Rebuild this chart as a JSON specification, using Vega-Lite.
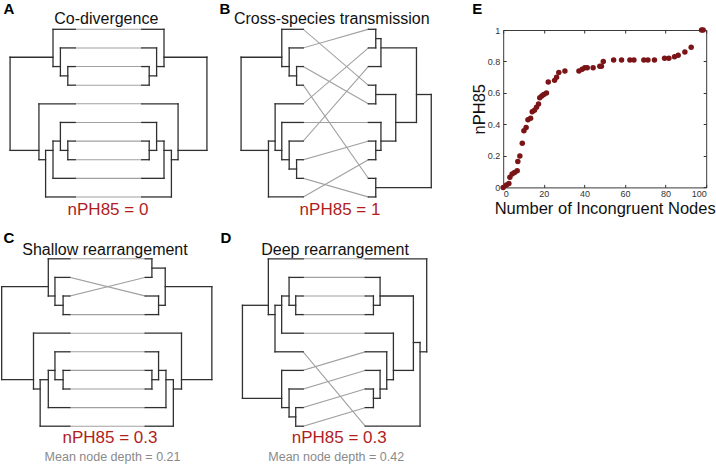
{
"$schema": "https://vega.github.io/schema/vega-lite/v6.json",
"padding": 0,
"background": "white",
"config": {"view": {"stroke": null}, "font": "Liberation Sans"},
"datasets": {
"segs": [
{"p":"A","k":"g","x":-4.5,"y":1,"x2":4.5,"y2":1},{"p":"A","k":"g","x":-4.5,"y":2,"x2":4.5,"y2":2},{"p":"A","k":"g","x":-4.5,"y":3,"x2":4.5,"y2":3},{"p":"A","k":"g","x":-4.5,"y":4,"x2":4.5,"y2":4},{"p":"A","k":"g","x":-4.5,"y":5,"x2":4.5,"y2":5},{"p":"A","k":"g","x":-4.5,"y":6,"x2":4.5,"y2":6},{"p":"A","k":"g","x":-4.5,"y":7,"x2":4.5,"y2":7},{"p":"A","k":"g","x":-4.5,"y":8,"x2":4.5,"y2":8},{"p":"A","k":"g","x":-4.5,"y":9,"x2":4.5,"y2":9},{"p":"A","k":"g","x":-4.5,"y":10,"x2":4.5,"y2":10},
{"p":"A","k":"t","x":-7.5,"y":1,"x2":-4.5,"y2":1},{"p":"A","k":"t","x":-6.5,"y":2,"x2":-4.5,"y2":2},{"p":"A","k":"t","x":-5.5,"y":3,"x2":-4.5,"y2":3},{"p":"A","k":"t","x":-5.5,"y":4,"x2":-4.5,"y2":4},{"p":"A","k":"t","x":-9.4,"y":5,"x2":-4.5,"y2":5},{"p":"A","k":"t","x":-6.5,"y":6,"x2":-4.5,"y2":6},{"p":"A","k":"t","x":-5.5,"y":7,"x2":-4.5,"y2":7},{"p":"A","k":"t","x":-5.5,"y":8,"x2":-4.5,"y2":8},{"p":"A","k":"t","x":-7.5,"y":9,"x2":-4.5,"y2":9},{"p":"A","k":"t","x":-8.5,"y":10,"x2":-4.5,"y2":10},
{"p":"A","k":"t","x":-5.5,"y":3,"x2":-5.5,"y2":4},{"p":"A","k":"t","x":-6.5,"y":3.5,"x2":-5.5,"y2":3.5},{"p":"A","k":"t","x":-6.5,"y":2,"x2":-6.5,"y2":3.5},{"p":"A","k":"t","x":-7.5,"y":3,"x2":-6.5,"y2":3},{"p":"A","k":"t","x":-7.5,"y":1,"x2":-7.5,"y2":3},{"p":"A","k":"t","x":-13.3,"y":2.5,"x2":-7.5,"y2":2.5},{"p":"A","k":"t","x":-5.5,"y":7,"x2":-5.5,"y2":8},{"p":"A","k":"t","x":-6.5,"y":7.5,"x2":-5.5,"y2":7.5},{"p":"A","k":"t","x":-6.5,"y":6,"x2":-6.5,"y2":7.5},{"p":"A","k":"t","x":-7.5,"y":7,"x2":-6.5,"y2":7},{"p":"A","k":"t","x":-7.5,"y":7,"x2":-7.5,"y2":9},{"p":"A","k":"t","x":-8.5,"y":7.5,"x2":-7.5,"y2":7.5},{"p":"A","k":"t","x":-8.5,"y":7.5,"x2":-8.5,"y2":10},{"p":"A","k":"t","x":-9.4,"y":8,"x2":-8.5,"y2":8},{"p":"A","k":"t","x":-9.4,"y":5,"x2":-9.4,"y2":8},{"p":"A","k":"t","x":-13.3,"y":7.5,"x2":-9.4,"y2":7.5},{"p":"A","k":"t","x":-13.3,"y":2.5,"x2":-13.3,"y2":7.5},
{"p":"A","k":"t","x":7.5,"y":1,"x2":4.5,"y2":1},{"p":"A","k":"t","x":6.5,"y":2,"x2":4.5,"y2":2},{"p":"A","k":"t","x":5.5,"y":3,"x2":4.5,"y2":3},{"p":"A","k":"t","x":5.5,"y":4,"x2":4.5,"y2":4},{"p":"A","k":"t","x":9.4,"y":5,"x2":4.5,"y2":5},{"p":"A","k":"t","x":6.5,"y":6,"x2":4.5,"y2":6},{"p":"A","k":"t","x":5.5,"y":7,"x2":4.5,"y2":7},{"p":"A","k":"t","x":5.5,"y":8,"x2":4.5,"y2":8},{"p":"A","k":"t","x":7.5,"y":9,"x2":4.5,"y2":9},{"p":"A","k":"t","x":8.5,"y":10,"x2":4.5,"y2":10},
{"p":"A","k":"t","x":5.5,"y":3,"x2":5.5,"y2":4},{"p":"A","k":"t","x":6.5,"y":3.5,"x2":5.5,"y2":3.5},{"p":"A","k":"t","x":6.5,"y":2,"x2":6.5,"y2":3.5},{"p":"A","k":"t","x":7.5,"y":3,"x2":6.5,"y2":3},{"p":"A","k":"t","x":7.5,"y":1,"x2":7.5,"y2":3},{"p":"A","k":"t","x":13.3,"y":2.5,"x2":7.5,"y2":2.5},{"p":"A","k":"t","x":5.5,"y":7,"x2":5.5,"y2":8},{"p":"A","k":"t","x":6.5,"y":7.5,"x2":5.5,"y2":7.5},{"p":"A","k":"t","x":6.5,"y":6,"x2":6.5,"y2":7.5},{"p":"A","k":"t","x":7.5,"y":7,"x2":6.5,"y2":7},{"p":"A","k":"t","x":7.5,"y":7,"x2":7.5,"y2":9},{"p":"A","k":"t","x":8.5,"y":7.5,"x2":7.5,"y2":7.5},{"p":"A","k":"t","x":8.5,"y":7.5,"x2":8.5,"y2":10},{"p":"A","k":"t","x":9.4,"y":8,"x2":8.5,"y2":8},{"p":"A","k":"t","x":9.4,"y":5,"x2":9.4,"y2":8},{"p":"A","k":"t","x":13.3,"y":7.5,"x2":9.4,"y2":7.5},{"p":"A","k":"t","x":13.3,"y":2.5,"x2":13.3,"y2":7.5},

{"p":"B","k":"g","x":-4.4,"y":1,"x2":4.4,"y2":4},{"p":"B","k":"g","x":-4.4,"y":2,"x2":4.4,"y2":1},{"p":"B","k":"g","x":-4.4,"y":3,"x2":4.4,"y2":5},{"p":"B","k":"g","x":-4.4,"y":4,"x2":4.4,"y2":9},{"p":"B","k":"g","x":-4.4,"y":5,"x2":4.4,"y2":2},{"p":"B","k":"g","x":-4.4,"y":6,"x2":4.4,"y2":6},{"p":"B","k":"g","x":-4.4,"y":7,"x2":4.4,"y2":3},{"p":"B","k":"g","x":-4.4,"y":8,"x2":4.4,"y2":7},{"p":"B","k":"g","x":-4.4,"y":9,"x2":4.4,"y2":10},{"p":"B","k":"g","x":-4.4,"y":10,"x2":4.4,"y2":8},
{"p":"B","k":"t","x":-7.3,"y":1,"x2":-4.4,"y2":1},{"p":"B","k":"t","x":-6.3,"y":2,"x2":-4.4,"y2":2},{"p":"B","k":"t","x":-5.3,"y":3,"x2":-4.4,"y2":3},{"p":"B","k":"t","x":-5.3,"y":4,"x2":-4.4,"y2":4},{"p":"B","k":"t","x":-8.2,"y":5,"x2":-4.4,"y2":5},{"p":"B","k":"t","x":-7.3,"y":6,"x2":-4.4,"y2":6},{"p":"B","k":"t","x":-6.3,"y":7,"x2":-4.4,"y2":7},{"p":"B","k":"t","x":-5.3,"y":8,"x2":-4.4,"y2":8},{"p":"B","k":"t","x":-5.3,"y":9,"x2":-4.4,"y2":9},{"p":"B","k":"t","x":-9.1,"y":10,"x2":-4.4,"y2":10},
{"p":"B","k":"t","x":-5.3,"y":3,"x2":-5.3,"y2":4},{"p":"B","k":"t","x":-6.3,"y":3.5,"x2":-5.3,"y2":3.5},{"p":"B","k":"t","x":-6.3,"y":2,"x2":-6.3,"y2":3.5},{"p":"B","k":"t","x":-7.3,"y":3,"x2":-6.3,"y2":3},{"p":"B","k":"t","x":-7.3,"y":1,"x2":-7.3,"y2":3},{"p":"B","k":"t","x":-12.8,"y":2.5,"x2":-7.3,"y2":2.5},{"p":"B","k":"t","x":-5.3,"y":8,"x2":-5.3,"y2":9},{"p":"B","k":"t","x":-6.3,"y":8.5,"x2":-5.3,"y2":8.5},{"p":"B","k":"t","x":-6.3,"y":7,"x2":-6.3,"y2":8.5},{"p":"B","k":"t","x":-7.3,"y":8,"x2":-6.3,"y2":8},{"p":"B","k":"t","x":-7.3,"y":6,"x2":-7.3,"y2":8},{"p":"B","k":"t","x":-8.2,"y":7.5,"x2":-7.3,"y2":7.5},{"p":"B","k":"t","x":-8.2,"y":5,"x2":-8.2,"y2":7.5},{"p":"B","k":"t","x":-9.1,"y":7,"x2":-8.2,"y2":7},{"p":"B","k":"t","x":-9.1,"y":7,"x2":-9.1,"y2":10},{"p":"B","k":"t","x":-12.8,"y":7.5,"x2":-9.1,"y2":7.5},{"p":"B","k":"t","x":-12.8,"y":2.5,"x2":-12.8,"y2":7.5},
{"p":"B","k":"t","x":4.4,"y":1,"x2":5.4,"y2":1},{"p":"B","k":"t","x":4.4,"y":2,"x2":5.4,"y2":2},{"p":"B","k":"t","x":4.4,"y":3,"x2":6.1,"y2":3},{"p":"B","k":"t","x":4.4,"y":4,"x2":5.4,"y2":4},{"p":"B","k":"t","x":4.4,"y":5,"x2":5.4,"y2":5},{"p":"B","k":"t","x":4.4,"y":6,"x2":6.1,"y2":6},{"p":"B","k":"t","x":4.4,"y":7,"x2":5.4,"y2":7},{"p":"B","k":"t","x":4.4,"y":8,"x2":5.4,"y2":8},{"p":"B","k":"t","x":4.4,"y":9,"x2":5.4,"y2":9},{"p":"B","k":"t","x":4.4,"y":10,"x2":5.4,"y2":10},
{"p":"B","k":"t","x":5.4,"y":1,"x2":5.4,"y2":2},{"p":"B","k":"t","x":5.4,"y":1.5,"x2":6.1,"y2":1.5},{"p":"B","k":"t","x":6.1,"y":1.5,"x2":6.1,"y2":3},{"p":"B","k":"t","x":6.1,"y":2,"x2":10.9,"y2":2},{"p":"B","k":"t","x":5.4,"y":4,"x2":5.4,"y2":5},{"p":"B","k":"t","x":5.4,"y":4.5,"x2":8.1,"y2":4.5},{"p":"B","k":"t","x":5.4,"y":7,"x2":5.4,"y2":8},{"p":"B","k":"t","x":5.4,"y":7.5,"x2":6.1,"y2":7.5},{"p":"B","k":"t","x":6.1,"y":6,"x2":6.1,"y2":7.5},{"p":"B","k":"t","x":6.1,"y":7,"x2":8.1,"y2":7},{"p":"B","k":"t","x":8.1,"y":4.5,"x2":8.1,"y2":7},{"p":"B","k":"t","x":8.1,"y":6,"x2":10.9,"y2":6},{"p":"B","k":"t","x":10.9,"y":2,"x2":10.9,"y2":6},{"p":"B","k":"t","x":10.9,"y":4.5,"x2":12.9,"y2":4.5},{"p":"B","k":"t","x":5.4,"y":9,"x2":5.4,"y2":10},{"p":"B","k":"t","x":5.4,"y":9.5,"x2":12.9,"y2":9.5},{"p":"B","k":"t","x":12.9,"y":4.5,"x2":12.9,"y2":9.5},

{"p":"C","k":"g","x":-5.1,"y":1,"x2":5.1,"y2":1},{"p":"C","k":"g","x":-5.1,"y":2,"x2":5.1,"y2":3},{"p":"C","k":"g","x":-5.1,"y":3,"x2":5.1,"y2":2},{"p":"C","k":"g","x":-5.1,"y":4,"x2":5.1,"y2":4},{"p":"C","k":"g","x":-5.1,"y":5,"x2":5.1,"y2":5},{"p":"C","k":"g","x":-5.1,"y":6,"x2":5.1,"y2":6},{"p":"C","k":"g","x":-5.1,"y":7,"x2":5.1,"y2":7},{"p":"C","k":"g","x":-5.1,"y":8,"x2":5.1,"y2":8},{"p":"C","k":"g","x":-5.1,"y":9,"x2":5.1,"y2":9},{"p":"C","k":"g","x":-5.1,"y":10,"x2":5.1,"y2":10},
{"p":"C","k":"t","x":-8.0,"y":1,"x2":-5.1,"y2":1},{"p":"C","k":"t","x":-7.1,"y":2,"x2":-5.1,"y2":2},{"p":"C","k":"t","x":-6.0,"y":3,"x2":-5.1,"y2":3},{"p":"C","k":"t","x":-6.0,"y":4,"x2":-5.1,"y2":4},{"p":"C","k":"t","x":-10.0,"y":5,"x2":-5.1,"y2":5},{"p":"C","k":"t","x":-7.1,"y":6,"x2":-5.1,"y2":6},{"p":"C","k":"t","x":-6.0,"y":7,"x2":-5.1,"y2":7},{"p":"C","k":"t","x":-6.0,"y":8,"x2":-5.1,"y2":8},{"p":"C","k":"t","x":-8.0,"y":9,"x2":-5.1,"y2":9},{"p":"C","k":"t","x":-9.1,"y":10,"x2":-5.1,"y2":10},
{"p":"C","k":"t","x":-6.0,"y":3,"x2":-6.0,"y2":4},{"p":"C","k":"t","x":-7.1,"y":3.5,"x2":-6.0,"y2":3.5},{"p":"C","k":"t","x":-7.1,"y":2,"x2":-7.1,"y2":3.5},{"p":"C","k":"t","x":-8.0,"y":3,"x2":-7.1,"y2":3},{"p":"C","k":"t","x":-8.0,"y":1,"x2":-8.0,"y2":3},{"p":"C","k":"t","x":-14.3,"y":2.5,"x2":-8.0,"y2":2.5},{"p":"C","k":"t","x":-6.0,"y":7,"x2":-6.0,"y2":8},{"p":"C","k":"t","x":-7.1,"y":7.5,"x2":-6.0,"y2":7.5},{"p":"C","k":"t","x":-7.1,"y":6,"x2":-7.1,"y2":7.5},{"p":"C","k":"t","x":-8.0,"y":7,"x2":-7.1,"y2":7},{"p":"C","k":"t","x":-8.0,"y":7,"x2":-8.0,"y2":9},{"p":"C","k":"t","x":-9.1,"y":7.5,"x2":-8.0,"y2":7.5},{"p":"C","k":"t","x":-9.1,"y":7.5,"x2":-9.1,"y2":10},{"p":"C","k":"t","x":-10.0,"y":8,"x2":-9.1,"y2":8},{"p":"C","k":"t","x":-10.0,"y":5,"x2":-10.0,"y2":8},{"p":"C","k":"t","x":-14.3,"y":7.5,"x2":-10.0,"y2":7.5},{"p":"C","k":"t","x":-14.3,"y":2.5,"x2":-14.3,"y2":7.5},
{"p":"C","k":"t","x":5.1,"y":1,"x2":6.0,"y2":1},{"p":"C","k":"t","x":5.1,"y":2,"x2":6.0,"y2":2},{"p":"C","k":"t","x":5.1,"y":3,"x2":6.9,"y2":3},{"p":"C","k":"t","x":5.1,"y":4,"x2":6.9,"y2":4},{"p":"C","k":"t","x":5.1,"y":5,"x2":10.0,"y2":5},{"p":"C","k":"t","x":5.1,"y":6,"x2":6.9,"y2":6},{"p":"C","k":"t","x":5.1,"y":7,"x2":6.0,"y2":7},{"p":"C","k":"t","x":5.1,"y":8,"x2":6.0,"y2":8},{"p":"C","k":"t","x":5.1,"y":9,"x2":7.9,"y2":9},{"p":"C","k":"t","x":5.1,"y":10,"x2":8.9,"y2":10},
{"p":"C","k":"t","x":6.0,"y":1,"x2":6.0,"y2":2},{"p":"C","k":"t","x":6.0,"y":1.5,"x2":7.8,"y2":1.5},{"p":"C","k":"t","x":6.9,"y":3,"x2":6.9,"y2":4},{"p":"C","k":"t","x":6.9,"y":3.5,"x2":7.8,"y2":3.5},{"p":"C","k":"t","x":7.8,"y":1.5,"x2":7.8,"y2":3.5},{"p":"C","k":"t","x":7.8,"y":2.5,"x2":14.1,"y2":2.5},{"p":"C","k":"t","x":6.0,"y":7,"x2":6.0,"y2":8},{"p":"C","k":"t","x":6.0,"y":7.5,"x2":6.9,"y2":7.5},{"p":"C","k":"t","x":6.9,"y":6,"x2":6.9,"y2":7.5},{"p":"C","k":"t","x":6.9,"y":7,"x2":7.9,"y2":7},{"p":"C","k":"t","x":7.9,"y":7,"x2":7.9,"y2":9},{"p":"C","k":"t","x":7.9,"y":7.5,"x2":8.9,"y2":7.5},{"p":"C","k":"t","x":8.9,"y":7.5,"x2":8.9,"y2":10},{"p":"C","k":"t","x":8.9,"y":8,"x2":10.0,"y2":8},{"p":"C","k":"t","x":10.0,"y":5,"x2":10.0,"y2":8},{"p":"C","k":"t","x":10.0,"y":7.5,"x2":14.1,"y2":7.5},{"p":"C","k":"t","x":14.1,"y":2.5,"x2":14.1,"y2":7.5},

{"p":"D","k":"g","x":-4.2,"y":1,"x2":4.2,"y2":1},{"p":"D","k":"g","x":-4.2,"y":2,"x2":4.2,"y2":2},{"p":"D","k":"g","x":-4.2,"y":3,"x2":4.2,"y2":3},{"p":"D","k":"g","x":-4.2,"y":4,"x2":4.2,"y2":4},{"p":"D","k":"g","x":-4.2,"y":5,"x2":4.2,"y2":5},{"p":"D","k":"g","x":-4.2,"y":6,"x2":4.2,"y2":10},{"p":"D","k":"g","x":-4.2,"y":7,"x2":4.2,"y2":6},{"p":"D","k":"g","x":-4.2,"y":8,"x2":4.2,"y2":7},{"p":"D","k":"g","x":-4.2,"y":9,"x2":4.2,"y2":8},{"p":"D","k":"g","x":-4.2,"y":10,"x2":4.2,"y2":9},
{"p":"D","k":"t","x":-8.9,"y":1,"x2":-4.2,"y2":1},{"p":"D","k":"t","x":-6.1,"y":2,"x2":-4.2,"y2":2},{"p":"D","k":"t","x":-5.2,"y":3,"x2":-4.2,"y2":3},{"p":"D","k":"t","x":-5.2,"y":4,"x2":-4.2,"y2":4},{"p":"D","k":"t","x":-7.1,"y":5,"x2":-4.2,"y2":5},{"p":"D","k":"t","x":-8.0,"y":6,"x2":-4.2,"y2":6},{"p":"D","k":"t","x":-7.1,"y":7,"x2":-4.2,"y2":7},{"p":"D","k":"t","x":-6.1,"y":8,"x2":-4.2,"y2":8},{"p":"D","k":"t","x":-5.2,"y":9,"x2":-4.2,"y2":9},{"p":"D","k":"t","x":-5.2,"y":10,"x2":-4.2,"y2":10},
{"p":"D","k":"t","x":-5.2,"y":3,"x2":-5.2,"y2":4},{"p":"D","k":"t","x":-6.1,"y":3.5,"x2":-5.2,"y2":3.5},{"p":"D","k":"t","x":-6.1,"y":2,"x2":-6.1,"y2":3.5},{"p":"D","k":"t","x":-7.1,"y":3,"x2":-6.1,"y2":3},{"p":"D","k":"t","x":-7.1,"y":3,"x2":-7.1,"y2":5},{"p":"D","k":"t","x":-8.0,"y":3.5,"x2":-7.1,"y2":3.5},{"p":"D","k":"t","x":-8.0,"y":3.5,"x2":-8.0,"y2":6},{"p":"D","k":"t","x":-8.9,"y":4,"x2":-8.0,"y2":4},{"p":"D","k":"t","x":-8.9,"y":1,"x2":-8.9,"y2":4},{"p":"D","k":"t","x":-12.4,"y":3.5,"x2":-8.9,"y2":3.5},{"p":"D","k":"t","x":-5.2,"y":9,"x2":-5.2,"y2":10},{"p":"D","k":"t","x":-6.1,"y":9.5,"x2":-5.2,"y2":9.5},{"p":"D","k":"t","x":-6.1,"y":8,"x2":-6.1,"y2":9.5},{"p":"D","k":"t","x":-7.1,"y":9,"x2":-6.1,"y2":9},{"p":"D","k":"t","x":-7.1,"y":7,"x2":-7.1,"y2":9},{"p":"D","k":"t","x":-12.4,"y":8.5,"x2":-7.1,"y2":8.5},{"p":"D","k":"t","x":-12.4,"y":3.5,"x2":-12.4,"y2":8.5},
{"p":"D","k":"t","x":4.2,"y":1,"x2":12.5,"y2":1},{"p":"D","k":"t","x":4.2,"y":2,"x2":6.2,"y2":2},{"p":"D","k":"t","x":4.2,"y":3,"x2":5.3,"y2":3},{"p":"D","k":"t","x":4.2,"y":4,"x2":5.3,"y2":4},{"p":"D","k":"t","x":4.2,"y":5,"x2":8.0,"y2":5},{"p":"D","k":"t","x":4.2,"y":6,"x2":7.1,"y2":6},{"p":"D","k":"t","x":4.2,"y":7,"x2":6.2,"y2":7},{"p":"D","k":"t","x":4.2,"y":8,"x2":5.3,"y2":8},{"p":"D","k":"t","x":4.2,"y":9,"x2":5.3,"y2":9},{"p":"D","k":"t","x":4.2,"y":10,"x2":11.6,"y2":10},
{"p":"D","k":"t","x":5.3,"y":3,"x2":5.3,"y2":4},{"p":"D","k":"t","x":5.3,"y":3.5,"x2":6.2,"y2":3.5},{"p":"D","k":"t","x":6.2,"y":2,"x2":6.2,"y2":3.5},{"p":"D","k":"t","x":6.2,"y":3,"x2":10.7,"y2":3},{"p":"D","k":"t","x":5.3,"y":8,"x2":5.3,"y2":9},{"p":"D","k":"t","x":5.3,"y":8.5,"x2":6.2,"y2":8.5},{"p":"D","k":"t","x":6.2,"y":7,"x2":6.2,"y2":8.5},{"p":"D","k":"t","x":6.2,"y":8,"x2":7.1,"y2":8},{"p":"D","k":"t","x":7.1,"y":6,"x2":7.1,"y2":8},{"p":"D","k":"t","x":7.1,"y":7.5,"x2":8.0,"y2":7.5},{"p":"D","k":"t","x":8.0,"y":5,"x2":8.0,"y2":7.5},{"p":"D","k":"t","x":8.0,"y":7,"x2":10.7,"y2":7},{"p":"D","k":"t","x":10.7,"y":3,"x2":10.7,"y2":7},{"p":"D","k":"t","x":10.7,"y":5.5,"x2":11.6,"y2":5.5},{"p":"D","k":"t","x":11.6,"y":5.5,"x2":11.6,"y2":10},{"p":"D","k":"t","x":11.6,"y":6,"x2":12.5,"y2":6},{"p":"D","k":"t","x":12.5,"y":1,"x2":12.5,"y2":6}
],
"pts": [
{"n":0,"v":0},{"n":1.6,"v":0.015},{"n":2.8,"v":0.025},{"n":3.3,"v":0.064},{"n":4.4,"v":0.085},{"n":5.6,"v":0.095},{"n":6.9,"v":0.106},{"n":7.2,"v":0.165},{"n":8.2,"v":0.2},{"n":9.4,"v":0.28},{"n":10.2,"v":0.36},{"n":11.3,"v":0.38},{"n":12.2,"v":0.43},{"n":13.5,"v":0.44},{"n":14.3,"v":0.48},{"n":15.4,"v":0.49},{"n":16.4,"v":0.51},{"n":17.4,"v":0.53},{"n":18,"v":0.57},{"n":19,"v":0.58},{"n":20,"v":0.59},{"n":21.3,"v":0.6},{"n":22.2,"v":0.67},{"n":25.3,"v":0.68},{"n":26.3,"v":0.7},{"n":27.4,"v":0.73},{"n":30.4,"v":0.74},{"n":37.3,"v":0.74},{"n":38.9,"v":0.75},{"n":40.2,"v":0.76},{"n":41.4,"v":0.76},{"n":44.3,"v":0.76},{"n":47.6,"v":0.77},{"n":48.4,"v":0.77},{"n":49.3,"v":0.8},{"n":54.4,"v":0.81},{"n":58.3,"v":0.81},{"n":62.4,"v":0.81},{"n":64.4,"v":0.81},{"n":69.3,"v":0.81},{"n":71.3,"v":0.81},{"n":74.5,"v":0.81},{"n":79.5,"v":0.82},{"n":81.6,"v":0.82},{"n":84.4,"v":0.83},{"n":86.2,"v":0.84},{"n":89.5,"v":0.86},{"n":92.6,"v":0.89},{"n":97.7,"v":1},{"n":98.5,"v":1}
]
},
"hconcat": [
{"vconcat": [
 {"hconcat": [
  {"width": 218, "height": 230, "layer": [
   {"data": {"name": "segs"}, "transform": [{"filter": "datum.p === 'A'"}], "mark": {"type": "rule", "strokeCap": "square"},
    "encoding": {
     "x": {"field": "x", "type": "quantitative", "scale": {"domain": [-14.662, 14.797], "nice": false, "zero": false}, "axis": null},
     "x2": {"field": "x2"},
     "y": {"field": "y", "type": "quantitative", "scale": {"domain": [-0.5727, 11.773], "nice": false, "zero": false, "reverse": true}, "axis": null},
     "y2": {"field": "y2"},
     "color": {"field": "k", "type": "nominal", "scale": {"domain": ["t", "g"], "range": ["#303030", "#a0a0a0"]}, "legend": null},
     "strokeWidth": {"field": "k", "type": "nominal", "scale": {"domain": ["t", "g"], "range": [1.3, 1.1]}, "legend": null}}},
   {"data": {"values": [{}]}, "mark": {"type": "text", "align": "left", "baseline": "alphabetic", "fontSize": 15, "fontWeight": "bold", "color": "#000"},
    "encoding": {"x": {"datum": -14.19, "type": "quantitative", "scale": {"domain": [-14.662, 14.797], "nice": false, "zero": false}, "axis": null}, "y": {"datum": 0.179, "type": "quantitative", "scale": {"domain": [-0.5727, 11.773], "nice": false, "zero": false, "reverse": true}, "axis": null}, "text": {"value": "A"}}},
   {"data": {"values": [{}]}, "mark": {"type": "text", "align": "center", "baseline": "alphabetic", "fontSize": 16, "color": "#111"},
    "encoding": {"x": {"datum": -0.3, "type": "quantitative", "scale": {"domain": [-14.662, 14.797], "nice": false, "zero": false}, "axis": null}, "y": {"datum": 0.742, "type": "quantitative", "scale": {"domain": [-0.5727, 11.773], "nice": false, "zero": false, "reverse": true}, "axis": null}, "text": {"value": "Co-divergence"}}},
   {"data": {"values": [{}]}, "mark": {"type": "text", "align": "center", "baseline": "alphabetic", "fontSize": 17, "color": "#b01e1e"},
    "encoding": {"x": {"datum": -0.07, "type": "quantitative", "scale": {"domain": [-14.662, 14.797], "nice": false, "zero": false}, "axis": null}, "y": {"datum": 10.97, "type": "quantitative", "scale": {"domain": [-0.5727, 11.773], "nice": false, "zero": false, "reverse": true}, "axis": null}, "text": {"value": "nPH85 = 0"}}}
  ]},
  {"width": 222, "height": 230, "layer": [
   {"data": {"name": "segs"}, "transform": [{"filter": "datum.p === 'B'"}], "mark": {"type": "rule", "strokeCap": "square"},
    "encoding": {
     "x": {"field": "x", "type": "quantitative", "scale": {"domain": [-15.919, 14.081], "nice": false, "zero": false}, "axis": null},
     "x2": {"field": "x2"},
     "y": {"field": "y", "type": "quantitative", "scale": {"domain": [-0.5727, 11.773], "nice": false, "zero": false, "reverse": true}, "axis": null},
     "y2": {"field": "y2"},
     "color": {"field": "k", "type": "nominal", "scale": {"domain": ["t", "g"], "range": ["#303030", "#a0a0a0"]}, "legend": null},
     "strokeWidth": {"field": "k", "type": "nominal", "scale": {"domain": ["t", "g"], "range": [1.3, 1.1]}, "legend": null}}},
   {"data": {"values": [{}]}, "mark": {"type": "text", "align": "left", "baseline": "alphabetic", "fontSize": 15, "fontWeight": "bold", "color": "#000"},
    "encoding": {"x": {"datum": -15.72, "type": "quantitative", "scale": {"domain": [-15.919, 14.081], "nice": false, "zero": false}, "axis": null}, "y": {"datum": 0.152, "type": "quantitative", "scale": {"domain": [-0.5727, 11.773], "nice": false, "zero": false, "reverse": true}, "axis": null}, "text": {"value": "B"}}},
   {"data": {"values": [{}]}, "mark": {"type": "text", "align": "center", "baseline": "alphabetic", "fontSize": 16, "color": "#111"},
    "encoding": {"x": {"datum": -0.55, "type": "quantitative", "scale": {"domain": [-15.919, 14.081], "nice": false, "zero": false}, "axis": null}, "y": {"datum": 0.716, "type": "quantitative", "scale": {"domain": [-0.5727, 11.773], "nice": false, "zero": false, "reverse": true}, "axis": null}, "text": {"value": "Cross-species transmission"}}},
   {"data": {"values": [{}]}, "mark": {"type": "text", "align": "center", "baseline": "alphabetic", "fontSize": 17, "color": "#b01e1e"},
    "encoding": {"x": {"datum": 0.57, "type": "quantitative", "scale": {"domain": [-15.919, 14.081], "nice": false, "zero": false}, "axis": null}, "y": {"datum": 10.97, "type": "quantitative", "scale": {"domain": [-0.5727, 11.773], "nice": false, "zero": false, "reverse": true}, "axis": null}, "text": {"value": "nPH85 = 1"}}}
  ]}
 ], "spacing": 0},
 {"hconcat": [
  {"width": 218, "height": 235, "layer": [
   {"data": {"name": "segs"}, "transform": [{"filter": "datum.p === 'C'"}], "mark": {"type": "rule", "strokeCap": "square"},
    "encoding": {
     "x": {"field": "x", "type": "quantitative", "scale": {"domain": [-14.527, 14.932], "nice": false, "zero": false}, "axis": null},
     "x2": {"field": "x2"},
     "y": {"field": "y", "type": "quantitative", "scale": {"domain": [-0.5484, 12.086], "nice": false, "zero": false, "reverse": true}, "axis": null},
     "y2": {"field": "y2"},
     "color": {"field": "k", "type": "nominal", "scale": {"domain": ["t", "g"], "range": ["#303030", "#a0a0a0"]}, "legend": null},
     "strokeWidth": {"field": "k", "type": "nominal", "scale": {"domain": ["t", "g"], "range": [1.3, 1.1]}, "legend": null}}},
   {"data": {"values": [{}]}, "mark": {"type": "text", "align": "left", "baseline": "alphabetic", "fontSize": 15, "fontWeight": "bold", "color": "#000"},
    "encoding": {"x": {"datum": -14.05, "type": "quantitative", "scale": {"domain": [-14.527, 14.932], "nice": false, "zero": false}, "axis": null}, "y": {"datum": 0.177, "type": "quantitative", "scale": {"domain": [-0.5484, 12.086], "nice": false, "zero": false, "reverse": true}, "axis": null}, "text": {"value": "C"}}},
   {"data": {"values": [{}]}, "mark": {"type": "text", "align": "center", "baseline": "alphabetic", "fontSize": 16, "color": "#111"},
    "encoding": {"x": {"datum": -0.34, "type": "quantitative", "scale": {"domain": [-14.527, 14.932], "nice": false, "zero": false}, "axis": null}, "y": {"datum": 0.769, "type": "quantitative", "scale": {"domain": [-0.5484, 12.086], "nice": false, "zero": false, "reverse": true}, "axis": null}, "text": {"value": "Shallow rearrangement"}}},
   {"data": {"values": [{}]}, "mark": {"type": "text", "align": "center", "baseline": "alphabetic", "fontSize": 17, "color": "#b01e1e"},
    "encoding": {"x": {"datum": 0.34, "type": "quantitative", "scale": {"domain": [-14.527, 14.932], "nice": false, "zero": false}, "axis": null}, "y": {"datum": 10.93, "type": "quantitative", "scale": {"domain": [-0.5484, 12.086], "nice": false, "zero": false, "reverse": true}, "axis": null}, "text": {"value": "nPH85 = 0.3"}}},
   {"data": {"values": [{}]}, "mark": {"type": "text", "align": "center", "baseline": "alphabetic", "fontSize": 12.5, "color": "#8a8a8a"},
    "encoding": {"x": {"datum": 0.68, "type": "quantitative", "scale": {"domain": [-14.527, 14.932], "nice": false, "zero": false}, "axis": null}, "y": {"datum": 11.88, "type": "quantitative", "scale": {"domain": [-0.5484, 12.086], "nice": false, "zero": false, "reverse": true}, "axis": null}, "text": {"value": "Mean node depth = 0.21"}}}
  ]},
  {"width": 222, "height": 235, "layer": [
   {"data": {"name": "segs"}, "transform": [{"filter": "datum.p === 'D'"}], "mark": {"type": "rule", "strokeCap": "square"},
    "encoding": {
     "x": {"field": "x", "type": "quantitative", "scale": {"domain": [-15.703, 14.297], "nice": false, "zero": false}, "axis": null},
     "x2": {"field": "x2"},
     "y": {"field": "y", "type": "quantitative", "scale": {"domain": [-0.5484, 12.086], "nice": false, "zero": false, "reverse": true}, "axis": null},
     "y2": {"field": "y2"},
     "color": {"field": "k", "type": "nominal", "scale": {"domain": ["t", "g"], "range": ["#303030", "#a0a0a0"]}, "legend": null},
     "strokeWidth": {"field": "k", "type": "nominal", "scale": {"domain": ["t", "g"], "range": [1.3, 1.1]}, "legend": null}}},
   {"data": {"values": [{}]}, "mark": {"type": "text", "align": "left", "baseline": "alphabetic", "fontSize": 15, "fontWeight": "bold", "color": "#000"},
    "encoding": {"x": {"datum": -15.36, "type": "quantitative", "scale": {"domain": [-15.703, 14.297], "nice": false, "zero": false}, "axis": null}, "y": {"datum": 0.177, "type": "quantitative", "scale": {"domain": [-0.5484, 12.086], "nice": false, "zero": false, "reverse": true}, "axis": null}, "text": {"value": "D"}}},
   {"data": {"values": [{}]}, "mark": {"type": "text", "align": "center", "baseline": "alphabetic", "fontSize": 16, "color": "#111"},
    "encoding": {"x": {"datum": 0.11, "type": "quantitative", "scale": {"domain": [-15.703, 14.297], "nice": false, "zero": false}, "axis": null}, "y": {"datum": 0.769, "type": "quantitative", "scale": {"domain": [-0.5484, 12.086], "nice": false, "zero": false, "reverse": true}, "axis": null}, "text": {"value": "Deep rearrangement"}}},
   {"data": {"values": [{}]}, "mark": {"type": "text", "align": "center", "baseline": "alphabetic", "fontSize": 17, "color": "#b01e1e"},
    "encoding": {"x": {"datum": 0.68, "type": "quantitative", "scale": {"domain": [-15.703, 14.297], "nice": false, "zero": false}, "axis": null}, "y": {"datum": 10.93, "type": "quantitative", "scale": {"domain": [-0.5484, 12.086], "nice": false, "zero": false, "reverse": true}, "axis": null}, "text": {"value": "nPH85 = 0.3"}}},
   {"data": {"values": [{}]}, "mark": {"type": "text", "align": "center", "baseline": "alphabetic", "fontSize": 12.5, "color": "#8a8a8a"},
    "encoding": {"x": {"datum": 0.27, "type": "quantitative", "scale": {"domain": [-15.703, 14.297], "nice": false, "zero": false}, "axis": null}, "y": {"datum": 11.88, "type": "quantitative", "scale": {"domain": [-0.5484, 12.086], "nice": false, "zero": false, "reverse": true}, "axis": null}, "text": {"value": "Mean node depth = 0.42"}}}
  ]}
 ], "spacing": 0}
], "spacing": 0},
{"vconcat": [
 {"width": 203, "height": 29.3, "data": {"values": []}, "mark": "point"},
 {"width": 203, "height": 157.4, "view": {"stroke": "#3a3a3a", "strokeWidth": 1},
  "layer": [
   {"data": {"name": "pts"}, "mark": {"type": "circle", "size": 30, "color": "#7a1416", "opacity": 1},
    "encoding": {
     "x": {"field": "n", "type": "quantitative", "scale": {"domain": [0, 100], "nice": false, "zero": false},
       "axis": {"values": [0, 20, 40, 60, 80, 100], "title": "Number of Incongruent Nodes", "titleFontSize": 16.5, "titleFontWeight": "normal", "titleColor": "#111", "titlePadding": 2, "labelFontSize": 9, "labelColor": "#333", "labelPadding": 5, "domain": false, "grid": false, "tickSize": -3, "tickColor": "#333"}},
     "y": {"field": "v", "type": "quantitative", "scale": {"domain": [0, 1], "nice": false, "zero": false},
       "axis": {"values": [0, 0.2, 0.4, 0.6, 0.8, 1], "format": "~g", "title": "nPH85", "titleFontSize": 16.5, "titleFontWeight": "normal", "titleColor": "#111", "titlePadding": 0, "labelFontSize": 9, "labelColor": "#333", "labelPadding": 6.5, "domain": false, "grid": false, "tickSize": -3, "tickColor": "#333"}}}},
   {"data": {"name": "pts"}, "mark": {"type": "circle", "opacity": 0},
    "encoding": {
     "x": {"field": "n", "type": "quantitative", "scale": {"domain": [0, 100], "nice": false, "zero": false},
       "axis": {"orient": "top", "values": [0, 20, 40, 60, 80, 100], "title": null, "labels": false, "domain": false, "grid": false, "tickSize": -3, "tickColor": "#333"}},
     "y": {"field": "v", "type": "quantitative", "scale": {"domain": [0, 1], "nice": false, "zero": false},
       "axis": {"orient": "right", "values": [0, 0.2, 0.4, 0.6, 0.8, 1], "title": null, "labels": false, "domain": false, "grid": false, "tickSize": -3, "tickColor": "#333"}}}},
   {"data": {"values": [{}]}, "mark": {"type": "text", "align": "left", "baseline": "alphabetic", "fontSize": 15, "fontWeight": "bold", "color": "#000"},
    "encoding": {"x": {"datum": -15.27, "type": "quantitative", "scale": {"domain": [0, 100], "nice": false, "zero": false}, "axis": null}, "y": {"datum": 1.102, "type": "quantitative", "scale": {"domain": [0, 1], "nice": false, "zero": false}, "axis": null}, "text": {"value": "E"}}}
  ],
  "resolve": {"axis": {"x": "independent", "y": "independent"}}}
], "spacing": 0, "bounds": "flush"}
],
"spacing": 30.2
}
